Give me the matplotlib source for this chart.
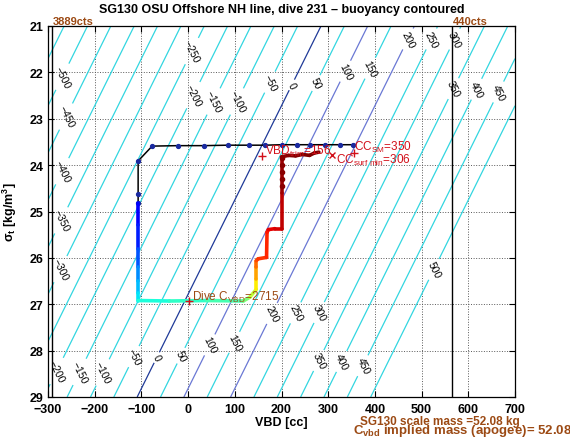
import numpy as np
import matplotlib
matplotlib.use('Agg')
import matplotlib.pyplot as plt
from matplotlib.collections import LineCollection

plt.rcParams['font.family'] = ['Liberation Sans', 'DejaVu Sans']
plt.rcParams['mathtext.fontset'] = 'custom'
plt.rcParams['mathtext.rm'] = 'Liberation Sans'
plt.rcParams['mathtext.it'] = 'Liberation Sans:italic'
plt.rcParams['mathtext.bf'] = 'Liberation Sans:bold'

# ---------------- data ----------------
x_ticks = [-300, -200, -100, 0, 100, 200, 300, 400, 500, 600, 700]
y_ticks = [21, 22, 23, 24, 25, 26, 27, 28, 29]

# buoyancy model
vbd_zero_at_29 = -109.0      # VBD [cc] of the 0 g contour at sigma_t = 29
cc_per_sigma = 49.2          # contour shift in VBD per unit sigma_t
g_per_cc = 1.0
levels = list(range(-550, 501, 50))
level_colors = {0: '#1f3a98', 100: '#6a78d4', 200: '#6a78d4'}

# pump-count limit lines
vbd_limit_lines = [-292, 565]
vbd_limit_labels = ['3889cts', '440cts']

# contour label positions (VBD, sigma)
label_pos = [(-268, 22.10), (-264, 22.94), (-270, 24.13), (-270, 25.20), (-274, 26.24),
             (8, 21.54), (15, 22.51), (53, 22.62), (107, 22.64), (175, 22.21),
             (222, 22.27), (278, 22.25), (340, 21.99), (394, 21.93), (479, 21.32),
             (529, 21.32), (578, 21.32), (578, 22.40), (625, 22.40), (674, 22.47),
             (-281, 28.44), (-236, 28.44), (-189, 28.44), (-114, 28.14), (-69, 28.14),
             (-13, 28.12), (51, 27.90), (107, 27.86), (182, 27.21), (235, 27.21),
             (287, 27.21), (287, 28.25), (332, 28.25), (379, 28.35), (533, 26.28)]

# glider track (black line with blue dots)
track_vbd = [353, 325, 293, 261, 233, 201, 165, 130, 85, 34, -22, -77, -107, -107, -107]
track_sig = [23.56, 23.56, 23.56, 23.56, 23.56, 23.56, 23.57, 23.57, 23.57, 23.58,
             23.58, 23.59, 23.91, 24.62, 24.82]
track_end_vbd = [-107, -107]
track_end_sig = [24.82, 26.92]

# colored (time) portion of the track
col_vbd = [-107, -107, -107, -107, -107, -107, -107, -40, 40, 118, 132, 146, 146, 146,
           146, 150, 168, 169, 172, 186, 200, 200, 200, 215, 230, 245, 260, 270, 280]
col_sig = [24.82, 25.30, 25.80, 26.20, 26.50, 26.75, 26.92, 26.93, 26.92, 26.93, 26.85,
           26.68, 26.45, 26.20, 26.06, 26.02, 25.99, 25.45, 25.39, 25.37, 25.37, 24.60,
           23.82, 23.79, 23.80, 23.77, 23.79, 23.74, 23.72]
col_t = [0.10, 0.13, 0.18, 0.24, 0.29, 0.33, 0.37, 0.40, 0.42, 0.45, 0.55, 0.62, 0.70,
         0.77, 0.82, 0.85, 0.86, 0.88, 0.90, 0.92, 0.93, 0.96, 0.98, 0.99, 0.99, 1.0,
         1.0, 1.0, 1.0]
dot_red_sig = [23.85, 24.0, 24.15, 24.3, 24.45]
dot_red_vbd = [200, 200, 200, 200, 200]

# annotations
vbd_trim = (158, 23.80)
cc_sm = (355, 23.74)
cc_surf = (308, 23.79)
dive_c = (2, 26.93)

# ---------------- figure ----------------
fig = plt.figure(figsize=(5.70, 4.39), dpi=100)
ax = fig.add_axes([48/570, 1-398/439, 467/570, 371/439])

V, S = np.meshgrid(np.linspace(-300, 700, 60), np.linspace(21, 29, 60))
Z = g_per_cc * (V - vbd_zero_at_29) + cc_per_sigma * (S - 29)
cols = [level_colors.get(l, '#33d6e0') for l in levels]
cs = ax.contour(V, S, Z, levels=levels, colors=cols, linewidths=0.9, zorder=1)
ax.clabel(cs, manual=label_pos, inline=True, inline_spacing=3, fontsize=7.5,
          fmt=lambda v: f'{v:.0f}'.replace('-', '\u2212'), colors='k')

ax.grid(True, linestyle=':', color='0.35', linewidth=0.7)
ax.set_axisbelow(True)

for xv in vbd_limit_lines:
    ax.axvline(xv, color='k', lw=1.0, zorder=2)
for xv, lab in zip(vbd_limit_lines, vbd_limit_labels):
    ax.text(xv + 2, 21, lab, color='#9c4a14', fontsize=8, fontweight='bold',
            ha='left', va='bottom', clip_on=False)

ax.plot(track_vbd + track_end_vbd[1:], track_sig + track_end_sig[1:], color='k',
        lw=1.1, zorder=3)
ax.plot(track_vbd, track_sig, ls='none', marker='o', ms=2.8, color='#1a2aa0', zorder=4)

pts = np.column_stack([col_vbd, col_sig])
segs = np.stack([pts[:-1], pts[1:]], axis=1)
tt = 0.5 * (np.array(col_t[:-1]) + np.array(col_t[1:]))
lc = LineCollection(segs, colors=plt.cm.jet(tt), linewidths=2.6, capstyle='round',
                    joinstyle='round', zorder=5)
ax.add_collection(lc)
ax.plot(dot_red_vbd, dot_red_sig, ls='none', marker='o', ms=3, color='#8a0000', zorder=6)

red = '#d2101a'
brown = '#9c4a14'
ax.plot(*vbd_trim, marker='+', color=red, ms=6, mew=1.0, zorder=7)
ax.text(vbd_trim[0] + 7, 23.75, r'VBD$_{\mathrm{trim}}$=156', color=red, fontsize=8.5,
        zorder=8)
ax.plot(*cc_sm, marker='+', color=red, ms=6, mew=1.0, zorder=7)
ax.text(cc_sm[0], 23.68, r'CC$_{\mathrm{SM}}$=350', color=red, fontsize=8.5, zorder=8,
        clip_on=False)
ax.plot(*cc_surf, marker='x', color=red, ms=4, mew=1.0, zorder=7)
ax.text(316, 23.95, r'CC$_{\mathrm{surf\ min}}$=306', color=red, fontsize=8.5, zorder=8,
        clip_on=False)
ax.plot(*dive_c, marker='+', color=red, ms=6, mew=1.0, zorder=7)
ax.text(8, 26.90, r'Dive C$_{\mathrm{VBD}}$=2715', color=brown, fontsize=8.5, zorder=8)

ax.set_xlim(-300, 700)
ax.set_ylim(29, 21)
ax.set_xticks(x_ticks)
ax.set_yticks(y_ticks)
ax.tick_params(direction='in', top=True, right=True, length=4, width=0.8,
               labelsize=9)
ax.tick_params(axis='x', pad=4)
ax.tick_params(axis='y', pad=3)
for lab in ax.get_xticklabels() + ax.get_yticklabels():
    lab.set_fontweight('bold')
for sp in ax.spines.values():
    sp.set_linewidth(0.9)

ax.set_title('SG130 OSU Offshore NH line, dive 231 \u2013 buoyancy contoured',
             fontsize=9, fontweight='bold', pad=10)
ax.set_xlabel('VBD [cc]', fontsize=9, fontweight='bold')
ax.xaxis.set_label_coords(0.5, -0.05)
ax.set_ylabel(r'$\mathbf{\sigma_t}$ [kg/m$^\mathbf{3}$]', fontsize=9, fontweight='bold')
ax.yaxis.set_label_coords(-0.062, 0.5)

fig.text(360/570, 1-425/439, 'SG130 scale mass =52.08 kg', color=brown, fontsize=8.5,
         fontweight='bold', va='baseline')
fig.text(353/570, 1-434/439, r'C$_{\mathbf{vbd}}$ implied mass (apogee)= 52.082',
         color=brown, fontsize=9.5, fontweight='bold', va='baseline')

fig.savefig('out.png', dpi=100)
